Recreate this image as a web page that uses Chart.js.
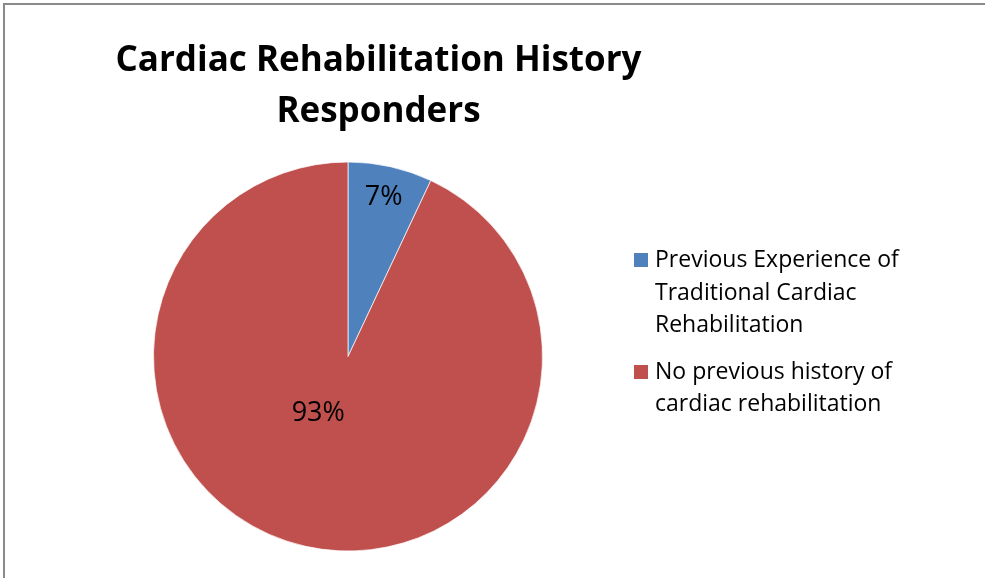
<!DOCTYPE html>
<html>
<head>
<meta charset="utf-8">
<script src="https://cdn.jsdelivr.net/npm/chart.js@4.4.1/dist/chart.umd.min.js"></script>
<style>
    html, body { margin: 0; padding: 0; background: #fff; }
    #wrap { position: relative; width: 985px; height: 578px; overflow: hidden; font-family: "Open Sans", sans-serif; }
    #frame { position: absolute; left: 3px; top: 3px; width: 990px; height: 600px; border-left: 2px solid #8a8a8a; border-top: 2px solid #8a8a8a; }
    #pie { position: absolute; left: 0; top: 0; }
    #title { position: absolute; left: 0; top: 32px; width: 757px; text-align: center; font-weight: bold; font-size: 35px; line-height: 51px; color: #000; }
    #legend { position: absolute; left: 634px; top: 242px; font-size: 23px; line-height: 32.5px; color: #000; }
    .item { position: relative; padding-left: 21px; margin-bottom: 14px; }
    .swatch { position: absolute; left: 0; top: 11px; width: 14px; height: 14px; }
</style>
</head>
<body>
<div id="wrap">
    <div id="frame"></div>
    <canvas id="pie" width="985" height="578"></canvas>
    <div id="title">Cardiac Rehabilitation History<br>Responders</div>
    <div id="legend"></div>
</div>
<script>
// 图表数据
const categories = [
    ['Previous Experience of', 'Traditional Cardiac', 'Rehabilitation'],
    ['No previous history of', 'cardiac rehabilitation']
];
const shares = [7, 93];
const sliceColors = ['#4F81BD', '#C0504D'];

// 扇区百分比标签
const sliceLabels = {
    id: 'sliceLabels',
    afterDatasetsDraw(chart, args, opts) {
        const ctx = chart.ctx;
        const meta = chart.getDatasetMeta(0);
        const total = shares.reduce((a, b) => a + b, 0);
        ctx.save();
        ctx.font = '27px "Open Sans"';
        ctx.fillStyle = '#000';
        ctx.textAlign = 'center';
        ctx.textBaseline = 'middle';
        meta.data.forEach((arc, i) => {
            const p = arc.getProps(['x', 'y', 'startAngle', 'endAngle', 'outerRadius']);
            const place = opts.place[i];
            const mid = (p.startAngle + p.endAngle) / 2 + place.turn * Math.PI / 180;
            const r = p.outerRadius * place.r;
            const text = Math.round(shares[i] / total * 100) + '%';
            ctx.fillText(text, p.x + Math.cos(mid) * r, p.y + Math.sin(mid) * r);
        });
        ctx.restore();
    }
};

new Chart(document.getElementById('pie'), {
    type: 'pie',
    data: {
        labels: categories.map(c => c.join(' ')),
        datasets: [{
            data: shares,
            backgroundColor: sliceColors,
            borderColor: 'rgba(255,255,255,0.7)',
            borderWidth: 1,
            radius: 194.5
        }]
    },
    options: {
        responsive: false,
        animation: false,
        layout: {
            padding: { left: 148, right: 437, top: 156.5, bottom: 21.5 }
        },
        plugins: {
            legend: { display: false },
            title: { display: false },
            tooltip: { enabled: false },
            sliceLabels: {
                place: [{ r: 0.84, turn: 0 }, { r: 0.33, turn: 15 }]
            }
        }
    },
    plugins: [sliceLabels]
});

// 图例
const legend = document.getElementById('legend');
categories.forEach((lines, i) => {
    const item = document.createElement('div');
    item.className = 'item';
    item.innerHTML = '<span class="swatch" style="background:' + sliceColors[i] + '"></span>' + lines.join('<br>');
    legend.appendChild(item);
});
</script>
</body>
</html>
